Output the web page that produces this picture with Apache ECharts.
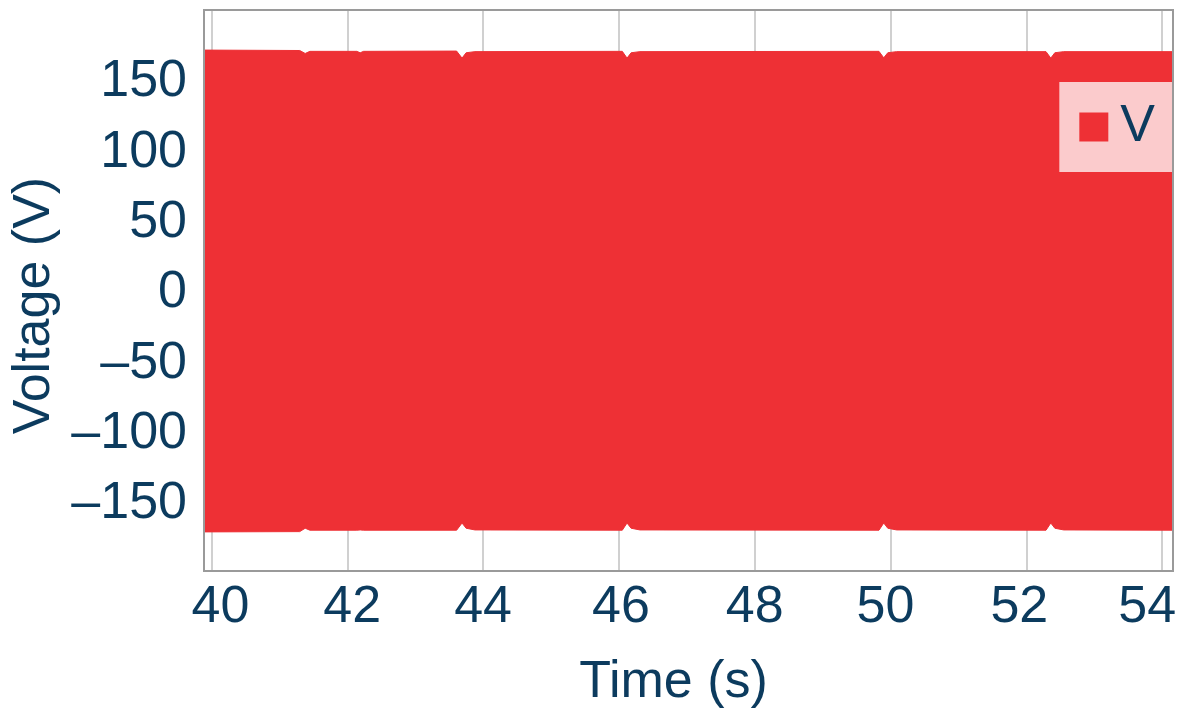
<!DOCTYPE html>
<html>
<head>
<meta charset="utf-8">
<title>Voltage</title>
<script src="https://cdn.jsdelivr.net/npm/echarts@6/dist/echarts.min.js"></script>
<style>
  html, body { margin: 0; padding: 0; background: #ffffff; overflow: hidden; }
  #chart { width: 1183px; height: 715px; }
</style>
</head>
<body>
<div id="chart"></div>
<script>
// Envelope of the measured voltage waveform: peak (upper) and trough (lower) per time point.
const time  = [39.89, 41.30, 41.38, 41.45, 42.14, 42.19, 42.24, 43.61, 43.69, 43.75, 43.88,
               46.05, 46.12, 46.18, 46.31, 49.83, 49.90, 49.96, 50.09, 52.29, 52.36, 52.42, 52.55, 54.16];
const vPeak = [172.7, 172.4, 170.3, 171.8, 171.8, 170.8, 171.8, 172.0, 167.0, 170.8, 171.6,
               171.8, 167.0, 170.8, 171.6, 171.8, 167.2, 170.8, 171.6, 171.6, 167.0, 170.8, 171.6, 171.6];
const vTrough = [-169.8, -169.6, -167.2, -168.6, -168.6, -168.4, -168.6, -168.6, -163.5, -167.2, -168.4,
                 -168.6, -163.5, -167.2, -168.4, -168.6, -163.5, -167.2, -168.4, -168.6, -163.5, -167.2, -168.4, -168.6];

const xTicks = [40, 42, 44, 46, 48, 50, 52, 54];
const yTicks = [-150, -100, -50, 0, 50, 100, 150];

// Horizontal nudge (px) of each time label, keeping the end labels inside the frame.
const xLabelNudge = [9, 5, 0, 2, 0, -5, -7, -15];

const seriesName = 'V';
const textColor = '#0c3b5e';
const red = '#ee3035';
const font = '"Liberation Sans", Arial, sans-serif';

const bandData = time.map((t, i) => [t, vPeak[i], vTrough[i]]);

// The whole band is one polygon: along the peaks left to right, back along the troughs.
function renderBand(params, api) {
  if (params.dataIndex !== 0) return null;
  const pts = [];
  for (let i = 0; i < time.length; i++) pts.push(api.coord([time[i], vPeak[i]]));
  for (let i = time.length - 1; i >= 0; i--) pts.push(api.coord([time[i], vTrough[i]]));
  return {
    type: 'polygon',
    shape: { points: pts },
    style: { fill: red, stroke: red, lineWidth: 1 }
  };
}

const xRich = {};
xTicks.forEach((v, i) => {
  const n = xLabelNudge[i];
  xRich['t' + i] = {
    color: textColor, fontSize: 52, fontFamily: font,
    padding: n >= 0 ? [0, 0, 0, 2 * n] : [0, -2 * n, 0, 0]
  };
});

const chart = echarts.init(document.getElementById('chart'), null, { renderer: 'canvas' });
chart.setOption({
  animation: false,
  backgroundColor: '#ffffff',
  textStyle: { fontFamily: font },
  grid: {
    left: 204, right: 10, top: 10, bottom: 144,
    outerBoundsMode: 'none',
    containLabel: false,
    show: true, z: 10,
    backgroundColor: 'transparent',
    borderColor: '#9a9a9a', borderWidth: 2
  },
  legend: {
    data: [{ name: seriesName, icon: 'rect' }],
    right: 10, top: 82,
    backgroundColor: 'rgba(255,255,255,0.75)',
    padding: [19, 18, 19, 20],
    itemWidth: 29, itemHeight: 29,
    textStyle: { color: textColor, fontSize: 52, fontFamily: font, padding: [0, 0, 0, 7] }
  },
  xAxis: {
    type: 'value',
    min: 39.89, max: 54.16,
    name: 'Time (s)',
    nameLocation: 'middle',
    nameGap: 86,
    nameTextStyle: { color: textColor, fontSize: 52, fontFamily: font, padding: [0, 30, 0, 0] },
    axisLine: { show: false },
    axisTick: { show: false, customValues: xTicks },
    axisLabel: {
      customValues: xTicks,
      color: textColor, fontSize: 52, fontFamily: font, margin: 11,
      formatter: v => {
        const i = xTicks.indexOf(v);
        return i < 0 ? String(v) : '{t' + i + '|' + v + '}';
      },
      rich: xRich
    },
    splitLine: { show: true, lineStyle: { color: '#d0d0d0', width: 2 } }
  },
  yAxis: {
    type: 'value',
    min: -197.6, max: 201.2,
    name: 'Voltage (V)',
    nameLocation: 'middle',
    nameGap: 117,
    nameTextStyle: { color: textColor, fontSize: 52, fontFamily: font, padding: [0, 30, 0, 0] },
    axisLine: { show: false },
    axisTick: { show: false, customValues: yTicks },
    axisLabel: {
      customValues: yTicks,
      color: textColor, fontSize: 52, fontFamily: font, margin: 17,
      formatter: v => String(v).replace('-', '\u2013')
    },
    splitLine: { show: false }
  },
  series: [
    {
      name: seriesName,
      type: 'custom',
      coordinateSystem: 'cartesian2d',
      data: bandData,
      encode: { x: 0, y: [1, 2] },
      itemStyle: { color: red },
      renderItem: renderBand,
      clip: true,
      silent: true
    }
  ]
});
</script>
</body>
</html>
